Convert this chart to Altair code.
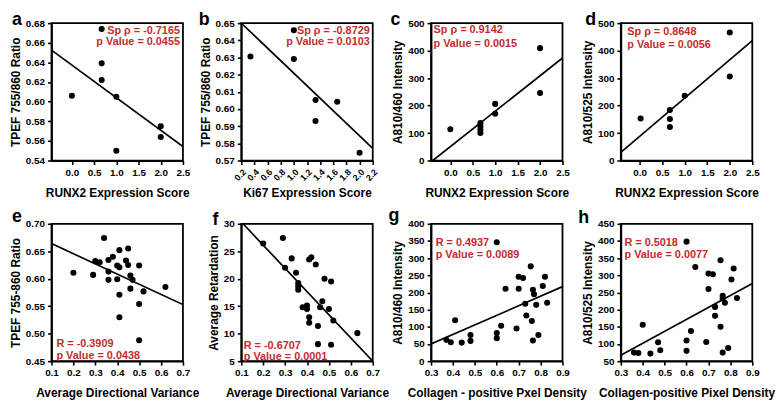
import altair as alt
import pandas as pd

FONT = "Liberation Sans"
RED = "#c62b2d"

# ---------------- data ----------------
# a
a_x = [0.0, 0.67, 0.67, 0.67, 1.0, 1.0, 2.0, 2.0]
a_y = [0.606, 0.674, 0.639, 0.622, 0.605, 0.550, 0.575, 0.564]
a_lx = [-0.46, 2.5]
a_ly = [0.6525, 0.5542]
# b
b_x = [0.34, 1.0, 1.0, 1.33, 1.33, 1.66, 2.0]
b_y = [0.6306, 0.6459, 0.6291, 0.6052, 0.5930, 0.6042, 0.5745]
b_lx = [0.2, 2.2]
b_ly = [0.650, 0.5770]
# c
c_x = [0.0, 0.67, 0.67, 0.67, 0.67, 1.0, 1.0, 2.0, 2.0]
c_y = [114, 136, 124, 112, 100, 206, 170, 409, 246]
c_lx = [-0.39, 2.5]
c_ly = [0, 373]
# d
d_x = [0.02, 0.67, 0.67, 0.67, 1.0, 2.0, 2.0]
d_y = [153, 184, 151, 122, 236, 466, 306]
d_lx = [-0.42, 2.5]
d_ly = [30, 436]
# e
e_x = [0.20, 0.29, 0.30, 0.32, 0.34, 0.36, 0.36, 0.38, 0.36, 0.40, 0.40, 0.41, 0.41,
       0.41, 0.41, 0.44, 0.45, 0.45, 0.46, 0.47, 0.46, 0.50, 0.50, 0.52, 0.50, 0.62]
e_y = [0.611, 0.607, 0.632, 0.630, 0.674, 0.634, 0.613, 0.640, 0.598, 0.624, 0.599, 0.621, 0.652,
       0.571, 0.530, 0.633, 0.655, 0.625, 0.606, 0.598, 0.582, 0.624, 0.554, 0.577, 0.488, 0.585]
e_lx = [0.1, 0.7]
e_ly = [0.664, 0.553]
# f
f_x = [0.20, 0.29, 0.30, 0.33, 0.35, 0.36, 0.36, 0.36, 0.38, 0.40, 0.40, 0.41, 0.41,
       0.41, 0.42, 0.44, 0.45, 0.45, 0.47, 0.46, 0.48, 0.51, 0.50, 0.52, 0.51, 0.63]
f_y = [26.4, 27.4, 22.0, 23.7, 21.1, 19.2, 18.6, 18.0, 14.8, 15.1, 14.5, 13.0, 12.0,
       23.5, 23.9, 22.6, 11.4, 8.1, 15.9, 14.8, 20.0, 19.5, 14.5, 12.4, 8.0, 10.1]
f_lx = [0.108, 0.7]
f_ly = [30, 5]
# g
g_x = [0.37, 0.39, 0.41, 0.44, 0.48, 0.48, 0.60, 0.60, 0.60, 0.62, 0.64, 0.69, 0.70, 0.70,
       0.72, 0.73, 0.735, 0.755, 0.76, 0.765, 0.77, 0.765, 0.78, 0.79, 0.81, 0.82, 0.83]
g_y = [62, 55, 119, 54, 76, 59, 346, 82, 67, 103, 211, 95, 211, 246,
       242, 167, 133, 276, 117, 208, 195, 60, 164, 76, 219, 246, 170]
g_lx = [0.3, 0.9]
g_ly = [50, 217]
# h
h_x = [0.36, 0.38, 0.40, 0.435, 0.47, 0.48, 0.60, 0.60, 0.60, 0.62, 0.64, 0.69, 0.70, 0.70,
       0.72, 0.73, 0.73, 0.755, 0.755, 0.765, 0.765, 0.765, 0.775, 0.79, 0.805, 0.815, 0.83]
h_y = [75, 74, 156, 72, 105, 82, 398, 110, 80, 138, 324, 106, 305, 260,
       303, 208, 182, 344, 150, 240, 232, 75, 220, 88, 288, 320, 234]
h_lx = [0.3, 0.9]
h_ly = [67, 276]

letters = ["a", "b", "c", "d", "e", "f", "g", "h"]
ann = {
    "a": ["Sp \u03c1 = -0.7165", "p Value = 0.0455"],
    "b": ["Sp \u03c1 = -0.8729", "p Value = 0.0103"],
    "c": ["Sp \u03c1 = 0.9142", "p Value = 0.0015"],
    "d": ["Sp \u03c1 = 0.8648", "p Value = 0.0056"],
    "e": ["R = -0.3909", "p Value = 0.0438"],
    "f": ["R = -0.6707", "p Value = 0.0001"],
    "g": ["R = 0.4937", "p Value = 0.0089"],
    "h": ["R = 0.5018", "p Value = 0.0077"],
}
x_titles = {
    "a": "RUNX2 Expression Score", "b": "Ki67 Expression Score",
    "c": "RUNX2 Expression Score", "d": "RUNX2 Expression Score",
    "e": "Average Directional Variance", "f": "Average Directional Variance",
    "g": "Collagen - positive Pxel Density", "h": "Collagen-positive Pixel Density",
}
y_titles = {
    "a": "TPEF 755/860 Ratio", "b": "TPEF 755/860 Ratio",
    "c": "A810/460 Intensity", "d": "A810/525 Intensity",
    "e": "TPEF 755-860 Ratio", "f": "Average Retardation",
    "g": "A810/460 Intensity", "h": "A810/525 Intensity",
}
runx_ticks = [0.0, 0.5, 1.0, 1.5, 2.0, 2.5]
ki67_ticks = [0.2, 0.4, 0.6, 0.8, 1.0, 1.2, 1.4, 1.6, 1.8, 2.0, 2.2]
adv_ticks = [0.1, 0.2, 0.3, 0.4, 0.5, 0.6, 0.7]
col_ticks = [0.3, 0.4, 0.5, 0.6, 0.7, 0.8, 0.9]
a_yticks = [0.54, 0.56, 0.58, 0.60, 0.62, 0.64, 0.66, 0.68]
b_yticks = [0.57, 0.58, 0.59, 0.60, 0.61, 0.62, 0.63, 0.64, 0.65]
int_yticks = [0, 100, 200, 300, 400, 500]
e_yticks = [0.45, 0.50, 0.55, 0.60, 0.65, 0.70]
f_yticks = [5, 10, 15, 20, 25, 30]
g_yticks = [0, 50, 100, 150, 200, 250, 300, 350, 400]
h_yticks = [50, 100, 150, 200, 250, 300, 350, 400, 450]

W, H = 133, 139


def panel(key, xs, ys, lxs, lys, xdom, ydom, xvals, yvals, yfmt,
          letter_pos, ann_align, ann_x, ann_y1, ann_y2,
          xangle=0, xlsize=10, xtpad=10):
    pts = pd.DataFrame({"x": xs, "y": ys})
    ln = pd.DataFrame({"x": lxs, "y": lys})
    xaxis = alt.Axis(values=xvals, format=".1f", title=x_titles[key], labelAngle=xangle,
                     labelFontSize=xlsize, titlePadding=xtpad, labelFlush=False,
                     labelOverlap=False)
    yaxis = alt.Axis(values=yvals, format=yfmt, title=y_titles[key], labelFlush=False,
                     labelOverlap=False)
    xenc = alt.X("x:Q", scale=alt.Scale(domain=xdom, nice=False, zero=False), axis=xaxis)
    yenc = alt.Y("y:Q", scale=alt.Scale(domain=ydom, nice=False, zero=False), axis=yaxis)
    line = alt.Chart(ln).mark_line(color="black", strokeWidth=1.7, clip=True).encode(x=xenc, y=yenc)
    points = alt.Chart(pts).mark_circle(size=38, color="black", opacity=1).encode(x=xenc, y=yenc)
    t1 = alt.Chart(pd.DataFrame({"t": [ann[key][0]]})).mark_text(
        align=ann_align, baseline="alphabetic", font=FONT, fontSize=11, fontWeight="bold",
        color=RED).encode(x=alt.value(ann_x), y=alt.value(ann_y1), text="t:N")
    t2 = alt.Chart(pd.DataFrame({"t": [ann[key][1]]})).mark_text(
        align=ann_align, baseline="alphabetic", font=FONT, fontSize=11, fontWeight="bold",
        color=RED).encode(x=alt.value(ann_x), y=alt.value(ann_y2), text="t:N")
    let = alt.Chart(pd.DataFrame({"t": [key]})).mark_text(
        align="left", baseline="alphabetic", font=FONT, fontSize=18, fontWeight="bold",
        color="black").encode(x=alt.value(letter_pos[0]), y=alt.value(letter_pos[1]), text="t:N")
    return alt.layer(line, points, t1, t2, let).properties(width=W, height=H)


pa = panel("a", a_x, a_y, a_lx, a_ly, [-0.46, 2.5], [0.54, 0.68], runx_ticks, a_yticks, ".2f",
           (-40, 2), "right", 130, 11, 22)
pb = panel("b", b_x, b_y, b_lx, b_ly, [0.2, 2.2], [0.57, 0.65], ki67_ticks, b_yticks, ".2f",
           (-43, 2), "right", 130, 11, 22, xangle=315, xlsize=9, xtpad=5)
pc = panel("c", c_x, c_y, c_lx, c_ly, [-0.43, 2.5], [0, 500], runx_ticks, int_yticks, "d",
           (-41, 2), "left", 2.5, 10, 24)
pd_ = panel("d", d_x, d_y, d_lx, d_ly, [-0.42, 2.5], [0, 500], runx_ticks, int_yticks, "d",
            (-36, 2), "left", 6.5, 12, 25.5)
pe = panel("e", e_x, e_y, e_lx, e_ly, [0.1, 0.7], [0.45, 0.70], adv_ticks, e_yticks, ".2f",
           (-40, -2), "left", 5, 124.5, 137)
pf = panel("f", f_x, f_y, f_lx, f_ly, [0.1, 0.7], [5, 30], adv_ticks, f_yticks, "d",
           (-29, 1), "left", 2.5, 126.5, 137.5)
pg = panel("g", g_x, g_y, g_lx, g_ly, [0.3, 0.9], [0, 400], col_ticks, g_yticks, "d",
           (-43, -3), "left", 4.7, 22.7, 35)
ph = panel("h", h_x, h_y, h_lx, h_ly, [0.3, 0.9], [50, 450], col_ticks, h_yticks, "d",
           (-43, -1), "left", 3.7, 22.7, 35)

chart = alt.concat(pa, pb, pc, pd_, pe, pf, pg, ph, columns=4,
                   spacing={"row": 64, "column": 59}, bounds="flush").properties(
    padding={"left": 0, "top": 0, "right": 0, "bottom": 0}
).configure_view(stroke="black", strokeWidth=1.8).configure_axis(
    domainColor="black", domainWidth=1.8, tickColor="black", tickWidth=1.6, tickSize=4,
    labelPadding=3, labelFont=FONT, labelFontSize=10, labelFontWeight="bold",
    labelColor="black", titleFont=FONT, titleFontSize=12, titleFontWeight="bold",
    titleColor="black", grid=False
).configure_axisY(titlePadding=3)

chart.save("out.html", embed_options={"renderer": "svg", "actions": False})
